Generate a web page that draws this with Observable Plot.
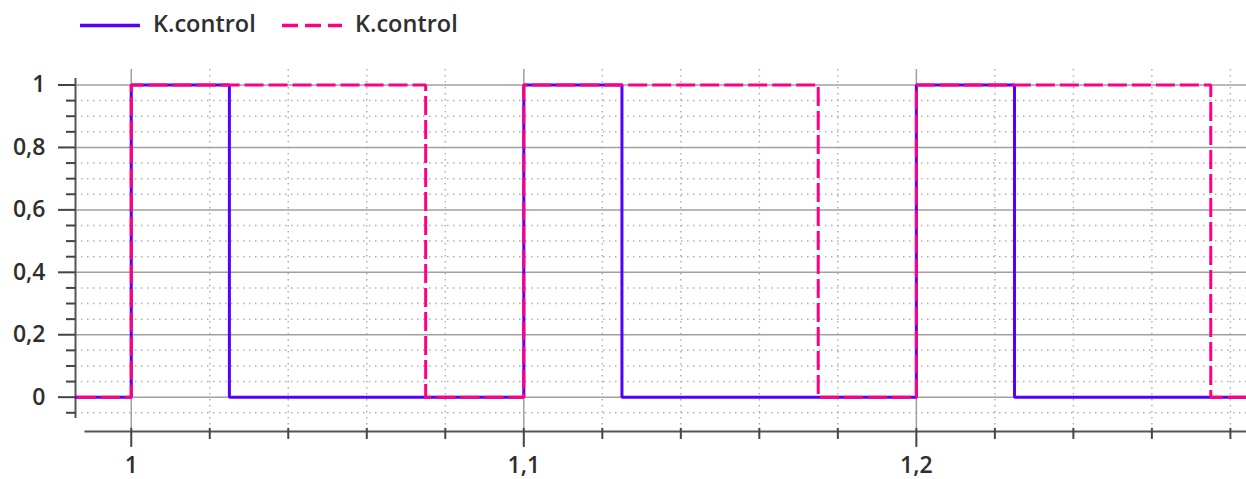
<!DOCTYPE html>
<html><head><meta charset="utf-8">
<script src="https://cdn.jsdelivr.net/npm/d3@7"></script>
<script src="https://cdn.jsdelivr.net/npm/@observablehq/plot@0.6"></script>
<style>
body{margin:0;background:#fff;font-family:"Open Sans",sans-serif;}
#legend{display:block;}
#chart svg{display:block;}
#chart svg text{font-weight:600;}
</style></head><body>
<svg id="legend" width="1246" height="50"></svg>
<div id="chart"></div>
<script>
// Series
const seriesNames = ["K.control", "K.control"];
const seriesColors = ["#5500ff", "#ff0080"];
const blueTime = [0.98, 1.0, 1.025, 1.1, 1.125, 1.2, 1.225, 1.3];
const blueValue = [0, 1, 0, 1, 0, 1, 0, 0];
const pinkTime = [0.98, 1.0, 1.075, 1.1, 1.175, 1.2, 1.275, 1.3];
const pinkValue = [0, 1, 0, 1, 0, 1, 0, 0];
// Ticks
const xMajor = [1.0, 1.1, 1.2];
const xMinor = [1.02, 1.04, 1.06, 1.08, 1.12, 1.14, 1.16, 1.18, 1.22, 1.24, 1.26, 1.28];
const yMajor = [0, 0.2, 0.4, 0.6, 0.8, 1];
const yMinor = [-0.05, 0.05, 0.1, 0.15, 0.25, 0.3, 0.35, 0.45, 0.5, 0.55, 0.65, 0.7, 0.75, 0.85, 0.9, 0.95];
// Axis extents
const xDomain = [0.9858, 1.2841];
const yDomain = [-0.1, 1.05];
const yAxisExtent = [-0.068, 1.021];
const xAxisLine = {y: -0.11, x1: 0.9882};

const fmt = d => String(d).replace(".", ",");

const blue = blueTime.map((t, i) => ({t, v: blueValue[i]}));
const pink = pinkTime.map((t, i) => ({t, v: pinkValue[i]}));

// Legend
const leg = d3.select("#legend");
const legendItems = [
  {x: 80, tx: 153, color: seriesColors[0], dash: null, name: seriesNames[0]},
  {x: 282, tx: 355, color: seriesColors[1], dash: "16,7", name: seriesNames[1]}
];
for (const it of legendItems) {
  leg.append("line").attr("x1", it.x).attr("x2", it.x + 60).attr("y1", 25.5).attr("y2", 25.5)
    .attr("stroke", it.color).attr("stroke-width", 3.5).attr("stroke-dasharray", it.dash);
  leg.append("text").attr("x", it.tx).attr("y", 31.5).attr("fill", "#2e2e2e")
    .attr("font-family", "Open Sans").attr("font-weight", 600).attr("font-size", "23.5px").text(it.name);
}

const chart = Plot.plot({
  width: 1246, height: 429,
  marginLeft: 75, marginRight: 0, marginTop: 18.9, marginBottom: 51.1,
  x: {domain: xDomain},
  y: {domain: yDomain},
  style: {fontFamily: "Open Sans", fontSize: "23px", background: "white", color: "#2e2e2e"},
  marks: [
    Plot.gridY(yMinor, {stroke: "#b0b0b0", strokeOpacity: 1, strokeWidth: 1.5, strokeDasharray: "1.5,4.5"}),
    Plot.gridX(xMinor, {stroke: "#b0b0b0", strokeOpacity: 1, strokeWidth: 1.5, strokeDasharray: "1.5,4.5"}),
    Plot.gridY(yMajor, {stroke: "#a0a0a0", strokeOpacity: 1, strokeWidth: 1.5}),
    Plot.gridX(xMajor, {stroke: "#a0a0a0", strokeOpacity: 1, strokeWidth: 1.5}),
    Plot.ruleX([xDomain[0]], {y1: yAxisExtent[0], y2: yAxisExtent[1], stroke: "#555", strokeWidth: 2}),
    Plot.ruleY([xAxisLine.y], {x1: xAxisLine.x1, x2: xDomain[1], stroke: "#555", strokeWidth: 2}),
    Plot.axisY(yMajor, {tickSize: 17, tickPadding: 13, tickFormat: fmt, stroke: "#444", strokeWidth: 2, fill: "#2e2e2e", label: null, fontSize: 23}),
    Plot.axisY(yMinor, {tickSize: 9, tickFormat: () => "", stroke: "#444", strokeWidth: 2, label: null}),
    Plot.axisX(xMajor, {tickSize: 19, tickPadding: 9, tickFormat: fmt, stroke: "#444", strokeWidth: 2, fill: "#2e2e2e", label: null, fontSize: 23}),
    Plot.axisX(xMinor, {tickSize: 11, tickFormat: () => "", stroke: "#444", strokeWidth: 2, label: null}),
    Plot.line(blue, {x: "t", y: "v", curve: "step-after", stroke: seriesColors[0], strokeWidth: 3, strokeLinejoin: "miter", strokeLinecap: "butt", clip: true}),
    Plot.line(pink, {x: "t", y: "v", curve: "step-after", stroke: seriesColors[1], strokeWidth: 3, strokeDasharray: "19,5", strokeLinejoin: "miter", strokeLinecap: "butt", clip: true})
  ]
});
document.getElementById("chart").appendChild(chart);
</script>
</body></html>
